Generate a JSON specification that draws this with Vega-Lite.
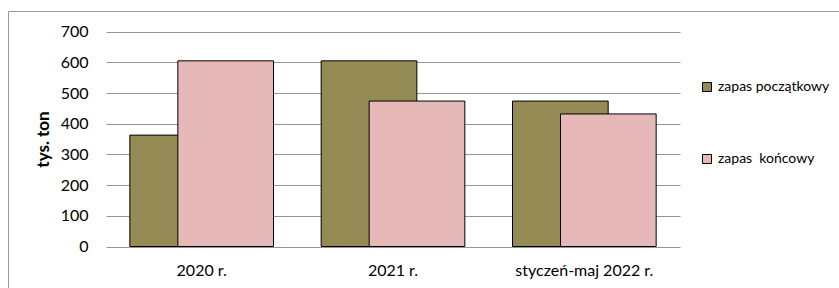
{
  "$schema": "https://vega.github.io/schema/vega-lite/v6.json",
  "autosize": {"type": "none"},
  "padding": {"left": 8, "top": 11, "right": 0, "bottom": 0},
  "width": 832,
  "height": 280,
  "background": "white",
  "config": {
    "view": {"stroke": "#9a9a9a", "strokeWidth": 1},
    "font": "Lato"
  },
  "data": {
    "values": [
      {"okres": "2020 r.", "seria": "zapas początkowy", "wartosc": 363},
      {"okres": "2021 r.", "seria": "zapas początkowy", "wartosc": 605},
      {"okres": "styczeń-maj 2022 r.", "seria": "zapas początkowy", "wartosc": 474},
      {"okres": "2020 r.", "seria": "zapas  końcowy", "wartosc": 605},
      {"okres": "2021 r.", "seria": "zapas  końcowy", "wartosc": 474},
      {"okres": "styczeń-maj 2022 r.", "seria": "zapas  końcowy", "wartosc": 432}
    ]
  },
  "encoding": {
    "x": {
      "field": "okres",
      "type": "nominal",
      "sort": ["2020 r.", "2021 r.", "styczeń-maj 2022 r."],
      "scale": {"range": [98, 672], "paddingInner": 0, "paddingOuter": 0},
      "axis": {
        "title": null,
        "domain": false,
        "ticks": false,
        "labelAngle": 0,
        "labelPadding": 16,
        "labelFontSize": 16,
        "labelColor": "#000000",
        "offset": -44.5,
        "grid": false
      }
    },
    "y": {
      "field": "wartosc",
      "type": "quantitative",
      "scale": {"domain": [0, 700], "nice": false, "range": [235.5, 20.7]},
      "axis": {
        "title": "tys. ton",
        "titleFontSize": 17,
        "titleFontWeight": "bold",
        "titleColor": "#000000",
        "titleX": -63,
        "titleY": 128,
        "titleBaseline": "middle",
        "titleAngle": 270,
        "values": [0, 100, 200, 300, 400, 500, 600, 700],
        "domain": false,
        "ticks": false,
        "labelPadding": 18,
        "labelFontSize": 16,
        "labelColor": "#000000",
        "offset": -98,
        "grid": true,
        "gridColor": "#959595",
        "gridWidth": 1
      }
    },
    "color": {
      "field": "seria",
      "type": "nominal",
      "scale": {
        "domain": ["zapas początkowy", "zapas  końcowy"],
        "range": ["#948A54", "#E6B9B8"]
      },
      "legend": {
        "title": null,
        "orient": "none",
        "legendX": 692,
        "legendY": 69,
        "padding": 0,
        "symbolType": "square",
        "symbolSize": 81,
        "symbolStrokeColor": "#000000",
        "symbolStrokeWidth": 1,
        "symbolOpacity": 1,
        "labelFontSize": 14,
        "labelColor": "#000000",
        "labelOffset": 4,
        "labelExpr": "replace(datum.label, '  ', '\u00a0 ')",
        "rowPadding": 58
      }
    }
  },
  "layer": [
    {
      "transform": [{"filter": "datum.seria === 'zapas początkowy'"}],
      "mark": {"type": "bar", "width": {"band": 0.5}, "xOffset": -24, "stroke": "#000000", "strokeWidth": 1, "opacity": 1}
    },
    {
      "transform": [{"filter": "datum.seria === 'zapas  końcowy'"}],
      "mark": {"type": "bar", "width": {"band": 0.5}, "xOffset": 24, "stroke": "#000000", "strokeWidth": 1, "opacity": 1}
    }
  ]
}
